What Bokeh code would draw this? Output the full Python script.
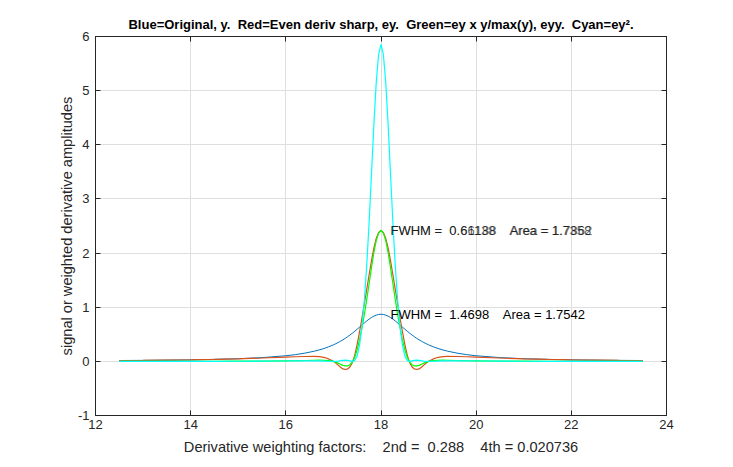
from bokeh.plotting import figure
from bokeh.models import LinearAxis, FixedTicker, Range1d, ColumnDataSource
from bokeh.embed import file_html
from bokeh.resources import INLINE
from bokeh.core.properties import value

# ---- data ----
x = [12.5, 13.0, 13.5, 14.0, 14.5, 15.0, 15.5, 16.0, 16.2, 16.4, 16.6, 16.7, 16.8, 16.9,
     17.0, 17.05, 17.1, 17.15, 17.2, 17.25, 17.3, 17.35, 17.4, 17.45, 17.5, 17.55, 17.6,
     17.65, 17.7, 17.75, 17.8, 17.85, 17.9, 17.95, 18.0, 18.05, 18.1, 18.15, 18.2, 18.25,
     18.3, 18.35, 18.4, 18.45, 18.5, 18.55, 18.6, 18.65, 18.7, 18.75, 18.8, 18.85, 18.9,
     18.95, 19.0, 19.1, 19.2, 19.3, 19.4, 19.6, 19.8, 20.0, 20.5, 21.0, 21.5, 22.0, 22.5,
     23.0, 23.5]

blue_y = [0.0153, 0.0184, 0.0226, 0.028, 0.037, 0.049, 0.069, 0.1035, 0.124, 0.152, 0.188,
          0.211, 0.237, 0.2685, 0.305, 0.326, 0.348, 0.372, 0.398, 0.426, 0.456, 0.488, 0.522,
          0.558, 0.595, 0.633, 0.671, 0.709, 0.746, 0.780, 0.810, 0.835, 0.854, 0.866, 0.870,
          0.866, 0.854, 0.835, 0.810, 0.780, 0.746, 0.709, 0.671, 0.633, 0.595, 0.558, 0.522,
          0.488, 0.456, 0.426, 0.398, 0.372, 0.348, 0.326, 0.305, 0.2685, 0.237, 0.211, 0.188,
          0.152, 0.124, 0.1035, 0.069, 0.049, 0.037, 0.028, 0.0226, 0.0184, 0.0153]

red_ey = [0.0153, 0.0184, 0.0225, 0.028, 0.036, 0.047, 0.062, 0.080, 0.085, 0.090, 0.092,
          0.088, 0.075, 0.045, 0.000, -0.030, -0.070, -0.110, -0.140, -0.150, -0.140, -0.100,
          -0.020, 0.120, 0.320, 0.550, 0.800, 1.060, 1.330, 1.600, 1.860, 2.090, 2.270, 2.380,
          2.420, 2.380, 2.270, 2.090, 1.860, 1.600, 1.330, 1.060, 0.800, 0.550, 0.320, 0.120,
          -0.020, -0.100, -0.140, -0.150, -0.140, -0.110, -0.070, -0.030, 0.000, 0.045, 0.075,
          0.088, 0.092, 0.090, 0.085, 0.080, 0.062, 0.047, 0.036, 0.028, 0.0225, 0.0184, 0.0153]

green_eyy = [0.0002, 0.0003, 0.0005, 0.0008, 0.0015, 0.0027, 0.005, 0.0095, 0.012, 0.016,
             0.020, 0.021, 0.020, 0.014, 0.000, -0.013, -0.033, -0.055, -0.074, -0.084,
             -0.083, -0.062, -0.012, 0.077, 0.219, 0.400, 0.617, 0.864, 1.140, 1.434, 1.732,
             2.006, 2.229, 2.369, 2.420, 2.369, 2.229, 2.006, 1.732, 1.434, 1.140, 0.864,
             0.617, 0.400, 0.219, 0.077, -0.012, -0.062, -0.083, -0.084, -0.074, -0.055,
             -0.033, -0.013, 0.000, 0.014, 0.020, 0.021, 0.020, 0.016, 0.012, 0.0095, 0.005,
             0.0027, 0.0015, 0.0008, 0.0005, 0.0003, 0.0002]

cyan_ey2 = [0.0002, 0.0003, 0.0005, 0.0008, 0.0013, 0.0022, 0.0038, 0.0064, 0.0072, 0.0081,
            0.0085, 0.0077, 0.0056, 0.0020, 0.0000, 0.0009, 0.0049, 0.0121, 0.0196, 0.0225,
            0.0196, 0.0100, 0.0004, 0.0144, 0.1024, 0.3025, 0.640, 1.124, 1.769, 2.560, 3.460,
            4.368, 5.153, 5.664, 5.856, 5.664, 5.153, 4.368, 3.460, 2.560, 1.769, 1.124, 0.640,
            0.3025, 0.1024, 0.0144, 0.0004, 0.0100, 0.0196, 0.0225, 0.0196, 0.0121, 0.0049,
            0.0009, 0.0000, 0.0020, 0.0056, 0.0077, 0.0085, 0.0081, 0.0072, 0.0064, 0.0038,
            0.0022, 0.0013, 0.0008, 0.0005, 0.0003, 0.0002]

x_ticks = [12, 14, 16, 18, 20, 22, 24]
y_ticks = [-1, 0, 1, 2, 3, 4, 5, 6]
y_tick_labels = ["-1", "0", "1", "2", "3", "4", "5", "6"]

# peak annotation for the original signal
orig_label_x = [18.2]
orig_label_y = [0.87]
orig_label_text = ["FWHM =\u00a0 1.4698\u00a0\u00a0\u00a0 Area = 1.7542"]
# two annotations printed on top of each other at the sharpened peak
sharp_label_x = [18.2, 18.2]
sharp_label_y = [2.42, 2.42]
sharp_label_text = ["FWHM =\u00a0 0.66188\u00a0\u00a0\u00a0 Area = 1.7862",
                    "FWHM =\u00a0 0.61138\u00a0\u00a0\u00a0 Area = 1.7358"]

title_text = ("Blue=Original, y.\u00a0 Red=Even deriv sharp, ey.\u00a0 "
              "Green=ey x y/max(y), eyy.\u00a0 Cyan=ey\u00b2.")
x_label = "Derivative weighting factors:\u00a0\u00a0\u00a0 2nd =\u00a0 0.288\u00a0\u00a0\u00a0 4th = 0.020736"
y_label = "signal or weighted derivative amplitudes"

# ---- styling ----
FONT = "Liberation Sans"
AX = "#262626"
GRID = "#dfdfdf"

p = figure(frame_width=571, frame_height=379,
           min_border_left=95, min_border_right=62, min_border_top=36, min_border_bottom=48,
           x_range=Range1d(12, 24), y_range=Range1d(-1, 6),
           output_backend="svg", toolbar_location=None,
           background_fill_color="white", border_fill_color="white")

bottom_ax = p.below[0]
left_ax = p.left[0]

p.title.text = title_text
p.title.align = "center"
p.title.offset = 5
p.title.text_font = FONT
p.title.text_font_size = "13px"
p.title.text_font_style = "bold"
p.title.text_color = "black"
p.title.standoff = 10

p.outline_line_color = AX
p.outline_line_width = 1
p.outline_line_alpha = 1

# mirror axes (ticks only) on top and right, like a boxed plot
top_ax = LinearAxis(ticker=FixedTicker(ticks=x_ticks),
                    major_label_overrides={t: "" for t in x_ticks})
right_ax = LinearAxis(ticker=FixedTicker(ticks=y_ticks),
                      major_label_overrides={t: "" for t in y_ticks})
p.add_layout(top_ax, "above")
p.add_layout(right_ax, "right")

for ax in (bottom_ax, left_ax, top_ax, right_ax):
    ax.axis_line_color = AX
    ax.major_tick_line_color = AX
    ax.major_tick_in = 5
    ax.major_tick_out = 0
    ax.minor_tick_line_color = None
    ax.major_label_text_font = FONT
    ax.major_label_text_font_size = "13px"
    ax.major_label_text_color = AX
    ax.axis_label_text_font = FONT
    ax.axis_label_text_font_size = "14.6px"
    ax.axis_label_text_font_style = "normal"
    ax.axis_label_text_color = AX

for ax in (top_ax, right_ax):
    ax.major_label_standoff = 0
    ax.major_label_text_font_size = "0px"

bottom_ax.ticker = FixedTicker(ticks=x_ticks)
left_ax.ticker = FixedTicker(ticks=y_ticks)
left_ax.major_label_overrides = {t: s for t, s in zip(y_ticks, y_tick_labels)}
bottom_ax.axis_label = x_label
left_ax.axis_label = y_label
bottom_ax.major_label_standoff = 4
bottom_ax.axis_label_standoff = 7
left_ax.major_label_standoff = 6
left_ax.axis_label_standoff = 0

p.xgrid.ticker = FixedTicker(ticks=x_ticks)
p.ygrid.ticker = FixedTicker(ticks=y_ticks)
p.grid.grid_line_color = GRID
p.grid.grid_line_width = 1

src = ColumnDataSource(dict(x=x, blue=blue_y, red=red_ey, green=green_eyy, cyan=cyan_ey2))
p.line("x", "blue", source=src, line_color="#0072BD", line_width=1)
p.line("x", "red", source=src, line_color="#D95319", line_width=1.2)
p.line("x", "green", source=src, line_color="#00FF00", line_width=1.2)
p.line("x", "cyan", source=src, line_color="#00FFFF", line_width=1.2)

osrc = ColumnDataSource(dict(x=orig_label_x, y=orig_label_y, t=orig_label_text))
p.text("x", "y", text="t", source=osrc, text_align="left", text_baseline="middle",
       text_font=value(FONT), text_font_size="13px", text_color="black")
ssrc = ColumnDataSource(dict(x=sharp_label_x, y=sharp_label_y, t=sharp_label_text))
p.text("x", "y", text="t", source=ssrc, text_align="left", text_baseline="middle",
       text_font=value(FONT), text_font_size="13px", text_color="black", text_alpha=0.65)

open("out.html", "w").write(file_html(p, INLINE))
